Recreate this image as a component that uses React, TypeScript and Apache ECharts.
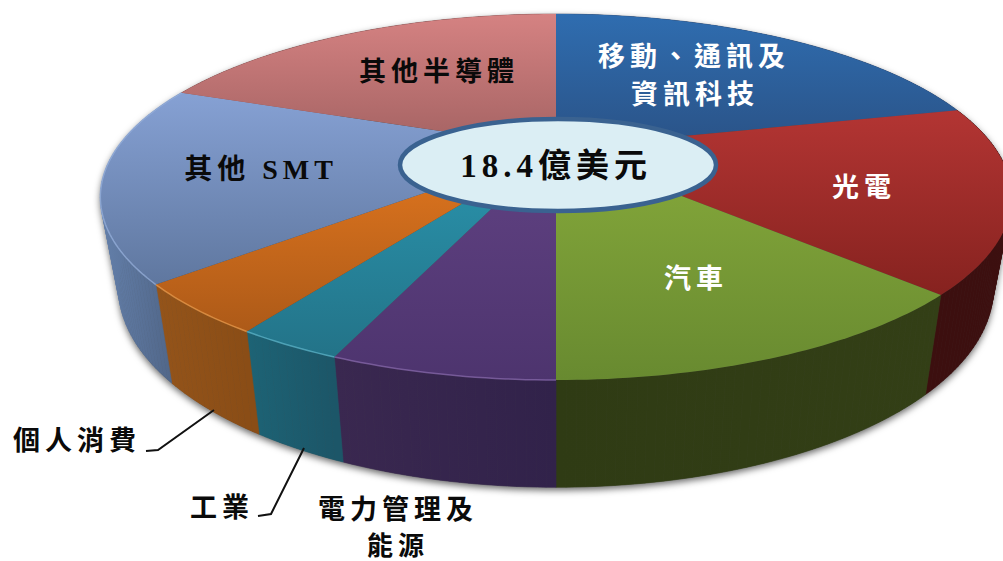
import React, { useEffect, useRef } from "react";
import * as echarts from "echarts";

const categories = ["移動、通訊及資訊科技", "光電", "汽車", "電力管理及能源", "工業", "個人消費", "其他 SMT", "其他半導體"];
const shares = [21.2, 16.2, 12.6, 6.2, 3.0, 4.3, 17.3, 19.2];
const totalLabel = "18.4億美元";

const faceStart = ["#2f6db0", "#b33533", "#86a93b", "#614283", "#2a95ae", "#e2771f", "#86a1d4", "#d58282"];
const faceEnd = ["#2a5286", "#86221f", "#688a30", "#4d346e", "#237388", "#ad5a18", "#5f779f", "#a36262"];
const wallStart = ["#2a4a78", "#3c0f0f", "#2f3b14", "#3a2850", "#1d6375", "#94541a", "#6480ab", "#8a5050"];
const wallEnd = ["#2a4a78", "#3c0f0f", "#333f16", "#31224a", "#1c5668", "#8a4d16", "#4e6384", "#8a5050"];
const rimLight = ["", "", "", "#8c6cb0", "#5fb9cf", "#f0a050", "#9ab4e0", ""];

const CX = 556;
const APEX_Y = 148;
const RADIUS = 439;
const PERSP = -0.268;
const TILT = 130.2;
const WALL_X = 0.96;
const WALL_Y = 1.09;
const WALL_DY = 73;

type Pt = [number, number];

function rimTop(deg: number): Pt {
  const t = (deg * Math.PI) / 180;
  const u = Math.sin(t);
  const v = -Math.cos(t);
  const w = 1 + PERSP * v;
  return [CX + (RADIUS * u) / w, (TILT * v + APEX_Y) / w];
}
function rimBottom(deg: number): Pt {
  const [x, y] = rimTop(deg);
  return [CX + (x - CX) * WALL_X, y * WALL_Y + WALL_DY];
}
function arc(fn: (d: number) => Pt, a: number, b: number) {
  const n = Math.max(2, Math.ceil(Math.abs(b - a)));
  const pts: Pt[] = [];
  for (let i = 0; i <= n; i++) pts.push(fn(a + ((b - a) * i) / n));
  return pts;
}
function hull(input: Pt[]) {
  const p = [...input].sort((a, b) => a[0] - b[0] || a[1] - b[1]);
  const cross = (o: Pt, a: Pt, b: Pt) => (a[0] - o[0]) * (b[1] - o[1]) - (a[1] - o[1]) * (b[0] - o[0]);
  const build = (list: Pt[]) => {
    const out: Pt[] = [];
    for (const q of list) {
      while (out.length >= 2 && cross(out[out.length - 2], out[out.length - 1], q) <= 0) out.pop();
      out.push(q);
    }
    out.pop();
    return out;
  };
  return [...build(p), ...build([...p].reverse())];
}

const total = shares.reduce((s, v) => s + v, 0);
const starts: number[] = [];
shares.reduce((acc, v, i) => {
  starts[i] = (acc / total) * 360;
  return acc + v;
}, 0);
const ends = shares.map((v, i) => starts[i] + (v / total) * 360);

const FONT = '"Liberation Serif", "Noto Sans CJK TC", serif';
function label(text: string, x: number, y: number, fill: string, size = 27, weight: any = "bold") {
  return {
    type: "text",
    x,
    y,
    z: 100,
    silent: true,
    style: {
      text,
      fill,
      font: `${weight} ${size}px ${FONT}`,
      textAlign: "center",
      textVerticalAlign: "middle",
    },
  };
}
function leader(points: number[][]) {
  return {
    type: "polyline",
    z: 100,
    silent: true,
    shape: { points },
    style: { stroke: "#111", lineWidth: 2, fill: "none" },
  };
}

const option: any = {
  animation: false,
  backgroundColor: "#ffffff",
  graphic: [
    {
      type: "ellipse",
      z: 90,
      silent: true,
      shape: { cx: 558, cy: 165, rx: 158, ry: 46 },
      style: { fill: "#dbeef4", stroke: "#3a6290", lineWidth: 4.5 },
    },
    label(totalLabel, 556, 166, "#0a0a0a", 33),
    label("移動、通訊及", 694, 57, "#ffffff"),
    label("資訊科技", 695, 95, "#ffffff"),
    label("光電", 864, 188, "#ffffff"),
    label("汽車", 696, 279, "#ffffff"),
    label("其他半導體", 439, 72, "#0a0a0a"),
    label("其他 SMT", 261, 169, "#0a0a0a", 28),
    label("個人消費", 77, 441, "#0a0a0a"),
    label("工業", 222, 508, "#0a0a0a"),
    label("電力管理及", 398, 510, "#0a0a0a"),
    label("能源", 398, 546, "#0a0a0a", 26),
    leader([[146, 451], [158, 450], [214, 410]]),
    leader([[258, 516], [271, 514], [304, 448]]),
  ],
  series: [
    {
      type: "custom",
      coordinateSystem: "none",
      silent: true,
      clip: false,
      z: 1,
      data: [[total]],
      renderItem: () => ({
        type: "polygon",
        shape: { points: hull([...arc(rimBottom, 0, 360), ...arc(rimTop, 0, 360)]) },
        style: {
          fill: "#444",
          shadowBlur: 7,
          shadowOffsetY: 3,
          shadowOffsetX: 0,
          shadowColor: "rgba(0,0,0,0.6)",
        },
      }),
    },
    {
      type: "custom",
      coordinateSystem: "none",
      silent: true,
      clip: false,
      z: 2,
      data: shares.map((v, i) => [i, v]),
      renderItem: (_p: any, api: any) => {
        const i = api.value(0);
        const top = arc(rimTop, starts[i], ends[i]);
        const bottom = arc(rimBottom, starts[i], ends[i]);
        const xs = top.map((p) => p[0]);
        const fill = {
          type: "linear",
          global: true,
          x: Math.min(...xs),
          y: 0,
          x2: Math.max(...xs),
          y2: 0,
          colorStops: [
            { offset: 0, color: wallStart[i] },
            { offset: 1, color: wallEnd[i] },
          ],
        };
        return {
          type: "group",
          children: top.slice(1).map((p, k) => ({
            type: "polygon",
            shape: { points: [top[k], p, bottom[k + 1], bottom[k]] },
            style: { fill, stroke: fill, lineWidth: 0.6 },
          })),
        };
      },
    },
    {
      type: "custom",
      coordinateSystem: "none",
      silent: true,
      clip: false,
      z: 3,
      data: shares.map((v, i) => [i, v]),
      renderItem: (_p: any, api: any) => {
        const i = api.value(0);
        const top = arc(rimTop, starts[i], ends[i]);
        const ys = top.map((p) => p[1]);
        const y0 = Math.min(APEX_Y, ...ys);
        const y1 = Math.max(APEX_Y, ...ys);
        const children: any[] = [
          {
            type: "polygon",
            shape: { points: [[CX, APEX_Y], ...top] },
            style: {
              fill: {
                type: "linear",
                global: true,
                x: 0,
                y: y0,
                x2: 0,
                y2: y1,
                colorStops: [
                  { offset: 0, color: faceStart[i] },
                  { offset: 1, color: faceEnd[i] },
                ],
              },
            },
          },
        ];
        if (rimLight[i]) {
          children.push({
            type: "polyline",
            shape: { points: top },
            style: { stroke: rimLight[i], lineWidth: 1.5, fill: "none", opacity: 0.7 },
          });
        }
        return { type: "group", children };
      },
    },
  ],
};

export default function App() {
  const ref = useRef<HTMLDivElement>(null);
  useEffect(() => {
    const chart = echarts.init(ref.current!, undefined, { renderer: "svg" });
    chart.setOption(option);
    return () => chart.dispose();
  }, []);
  return (
    <>
      <style>{`html,body{margin:0;overflow:hidden} #chart svg text{letter-spacing:5px}`}</style>
      <div
        id="chart"
        ref={ref}
        aria-label={categories.join("、")}
        style={{ position: "fixed", left: 0, top: 0, width: 1003, height: 561 }}
      />
    </>
  );
}
